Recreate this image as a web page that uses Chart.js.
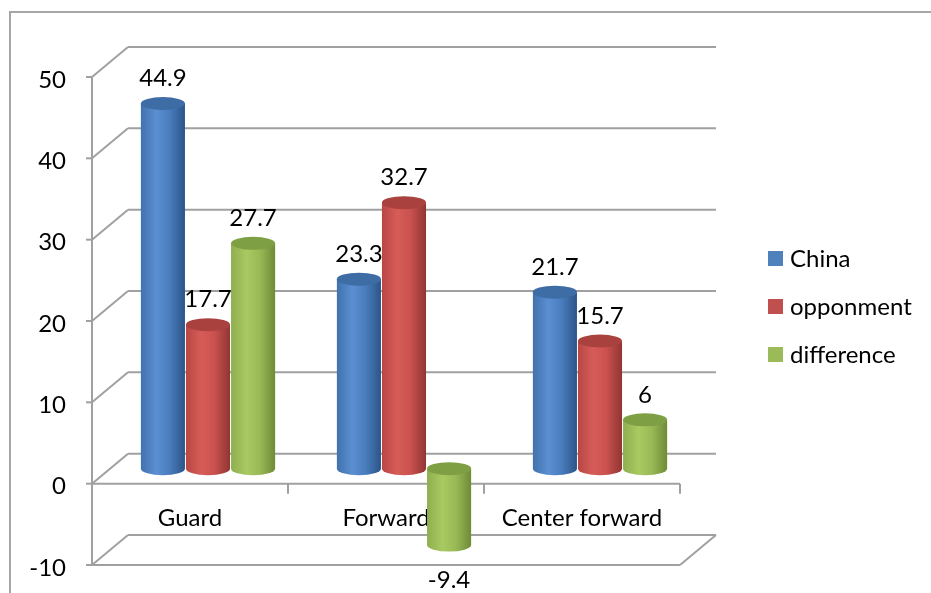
<!DOCTYPE html>
<html>
<head>
<meta charset="utf-8">
<script src="https://cdn.jsdelivr.net/npm/chart.js@4/dist/chart.umd.min.js"></script>
<style>
  html, body { margin: 0; padding: 0; background: #fff; }
  canvas { display: block; }
</style>
</head>
<body>
<canvas id="cylChart" width="931" height="593"></canvas>
<script>
// data
const categories = ['Guard', 'Forward', 'Center forward'];
const seriesNames = ['China', 'opponment', 'difference'];
const chinaValues = [44.9, 23.3, 21.7];
const opponentValues = [17.7, 32.7, 15.7];
const differenceValues = [27.7, -9.4, 6];
const yTicks = [-10, 0, 10, 20, 30, 40, 50];

const FONT = '24px Lato, "Open Sans", sans-serif';
const GRID = '#a0a0a0';
const DEPTH_X = 36, DEPTH_Y = -30;   // back wall offset

// colour sets for the cylinders: legend, edge, light, mid, dark, top
const PALETTE = [
    { key: '#4f81bd', edge: '#4272ad', light: '#5a8fd2', mid: '#4a7dbd', dark: '#2c5488', top: '#3e6ca4' },
    { key: '#c0504d', edge: '#b84744', light: '#d75c58', mid: '#c9514e', dark: '#913533', top: '#a9413f' },
    { key: '#9bbb59', edge: '#8fae4f', light: '#a9c962', mid: '#99b956', dark: '#6f8b37', top: '#7f9f45' }
];

function line(ctx, x1, y1, x2, y2) {
    ctx.beginPath();
    ctx.moveTo(x1, y1);
    ctx.lineTo(x2, y2);
    ctx.stroke();
}

const walls3d = {
    id: 'walls3d',
    beforeDatasetsDraw(chart) {
        const ctx = chart.ctx;
        const xs = chart.scales.x, ys = chart.scales.y;
        const L = chart.chartArea.left, R = chart.chartArea.right;
        ctx.save();

        // outer frame
        ctx.strokeStyle = '#a6a6a6';
        ctx.lineWidth = 2;
        ctx.beginPath();
        ctx.moveTo(10, 600); ctx.lineTo(10, 12); ctx.lineTo(940, 12);
        ctx.stroke();

        ctx.strokeStyle = GRID;
        ctx.lineWidth = 2;
        // back wall gridlines + side diagonals
        yTicks.forEach(v => {
            const y = ys.getPixelForValue(v);
            line(ctx, L + DEPTH_X, y + DEPTH_Y, R + DEPTH_X, y + DEPTH_Y);
            line(ctx, L, y, L + DEPTH_X, y + DEPTH_Y);
            line(ctx, L - 6, y, L, y);
        });
        // front axis
        const yMin = ys.getPixelForValue(yTicks[0]);
        const yMax = ys.getPixelForValue(yTicks[yTicks.length - 1]);
        const y0 = ys.getPixelForValue(0);
        line(ctx, L, yMax, L, yMin);
        // floor front edge and right slope
        line(ctx, L, yMin, R, yMin);
        line(ctx, R, yMin, R + DEPTH_X, yMin + DEPTH_Y);
        // category axis on zero
        line(ctx, L, y0, R, y0);
        const step = (R - L) / categories.length;
        for (let i = 0; i <= categories.length; i++) {
            line(ctx, L + i * step, y0, L + i * step, y0 + 10);
        }

        // tick labels
        ctx.fillStyle = '#000';
        ctx.font = FONT;
        ctx.textAlign = 'right';
        ctx.textBaseline = 'middle';
        yTicks.forEach(v => ctx.fillText(String(v), 66, ys.getPixelForValue(v) + 3));

        // category labels
        ctx.textAlign = 'center';
        categories.forEach((c, i) => ctx.fillText(c, xs.getPixelForValue(i), (y0 + yMin) / 2 - 6));
        ctx.restore();
    },
    afterDatasetsDraw(chart) {
        const ctx = chart.ctx;
        const dx = DEPTH_X / 2, dy = DEPTH_Y / 2;
        ctx.save();
        for (let i = 0; i < categories.length; i++) {
            chart.data.datasets.forEach((ds, d) => {
                const bar = chart.getDatasetMeta(d).data[i];
                const c = PALETTE[d];
                const cx = bar.x + dx;
                const rx = bar.width / 2 - 0.5, ry = 6.5;
                const yTop = Math.min(bar.y, bar.base) + dy;
                const yBot = Math.max(bar.y, bar.base) + dy;

                const g = ctx.createLinearGradient(cx - rx, 0, cx + rx, 0);
                g.addColorStop(0, c.edge);
                g.addColorStop(0.35, c.light);
                g.addColorStop(0.65, c.mid);
                g.addColorStop(1, c.dark);
                ctx.fillStyle = g;
                ctx.beginPath();
                ctx.moveTo(cx - rx, yTop);
                ctx.lineTo(cx - rx, yBot);
                ctx.ellipse(cx, yBot, rx, ry, 0, Math.PI, 0, true);
                ctx.lineTo(cx + rx, yTop);
                ctx.closePath();
                ctx.fill();

                ctx.fillStyle = c.top;
                ctx.beginPath();
                ctx.ellipse(cx, yTop, rx, ry, 0, 0, Math.PI * 2);
                ctx.fill();
            });
        }

        // value labels
        ctx.fillStyle = '#000';
        ctx.font = FONT;
        ctx.textAlign = 'center';
        ctx.textBaseline = 'middle';
        chart.data.datasets.forEach((ds, d) => {
            chart.getDatasetMeta(d).data.forEach((bar, i) => {
                const v = ds.data[i];
                const cx = bar.x + dx;
                const y = v >= 0 ? bar.y + dy - 25 : bar.y + dy + 35;
                ctx.fillText(String(v), cx, y);
            });
        });

        // legend
        ctx.textAlign = 'left';
        seriesNames.forEach((n, k) => {
            const y = 258 + k * 48;
            ctx.fillStyle = PALETTE[k].key;
            ctx.fillRect(768, y - 7, 15, 15);
            ctx.fillStyle = '#000';
            ctx.fillText(n, 790, y + 1);
        });
        ctx.restore();
    }
};

new Chart(document.getElementById('cylChart'), {
    type: 'bar',
    data: {
        labels: categories,
        datasets: [
            { label: seriesNames[0], data: chinaValues },
            { label: seriesNames[1], data: opponentValues },
            { label: seriesNames[2], data: differenceValues }
        ].map(ds => Object.assign(ds, {
            backgroundColor: 'rgba(0,0,0,0)',
            borderWidth: 0,
            barPercentage: 1,
            categoryPercentage: 0.69
        }))
    },
    options: {
        responsive: false,
        animation: false,
        layout: { padding: { left: 92, right: 251, top: 77, bottom: 28 } },
        plugins: { legend: { display: false }, tooltip: { enabled: false } },
        scales: {
            x: { display: false, offset: true, grid: { display: false } },
            y: {
                display: false, min: -10, max: 50,
                afterBuildTicks: s => { s.ticks = yTicks.map(v => ({ value: v })); }
            }
        }
    },
    plugins: [walls3d]
});
</script>
</body>
</html>
